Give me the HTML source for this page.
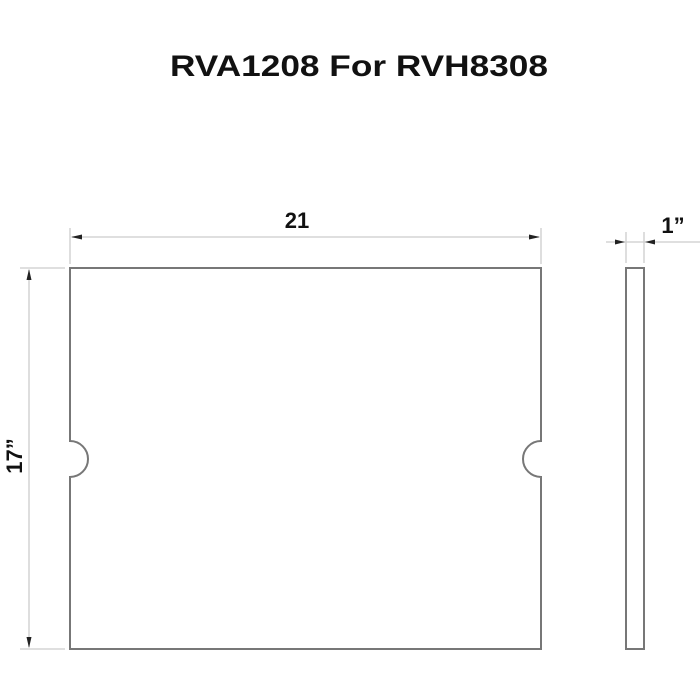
<!DOCTYPE html>
<html><head><style>body{margin:0;background:#fff}svg{display:block}</style></head>
<body>
<svg width="700" height="700" xmlns="http://www.w3.org/2000/svg">
<rect width="700" height="700" fill="#fff"/>
<text x="359" y="76" text-anchor="middle" font-family="Liberation Sans, sans-serif" font-weight="bold" font-size="30" textLength="378" lengthAdjust="spacingAndGlyphs" fill="#111">RVA1208 For RVH8308</text>
<g stroke="#ccc" stroke-width="1.3" fill="none">
<line x1="70" y1="228" x2="70" y2="264"/>
<line x1="541" y1="228" x2="541" y2="264"/>
<line x1="72" y1="237" x2="539" y2="237"/>
<line x1="20" y1="268" x2="65" y2="268"/>
<line x1="20" y1="649" x2="65" y2="649"/>
<line x1="29" y1="270" x2="29" y2="647"/>
<line x1="626" y1="232" x2="626" y2="263"/>
<line x1="644" y1="232" x2="644" y2="263"/>
<line x1="606" y1="242" x2="700" y2="242"/>
</g>
<g fill="#222">
<polygon points="71,237 82,234.5 82,239.5"/>
<polygon points="540,237 529,234.5 529,239.5"/>
<polygon points="29,269 26.5,280 31.5,280"/>
<polygon points="29,648 26.5,637 31.5,637"/>
<polygon points="625,242 615,239.5 615,244.5"/>
<polygon points="645,242 655,239.5 655,244.5"/>
</g>
<path d="M70,268 H541 V441 A18,18 0 0 0 541,477 V649 H70 V477 A18,18 0 0 0 70,441 Z" fill="none" stroke="#777" stroke-width="2"/>
<rect x="626" y="268" width="18" height="381" fill="none" stroke="#777" stroke-width="2"/>
<text x="297" y="228" text-anchor="middle" font-family="Liberation Sans, sans-serif" font-weight="bold" font-size="22" fill="#111">21</text>
<text x="673" y="233" text-anchor="middle" font-family="Liberation Sans, sans-serif" font-weight="bold" font-size="22" fill="#111">1”</text>
<text transform="translate(22,456) rotate(-90)" text-anchor="middle" font-family="Liberation Sans, sans-serif" font-weight="bold" font-size="22" fill="#111">17”</text>
</svg>
</body></html>
